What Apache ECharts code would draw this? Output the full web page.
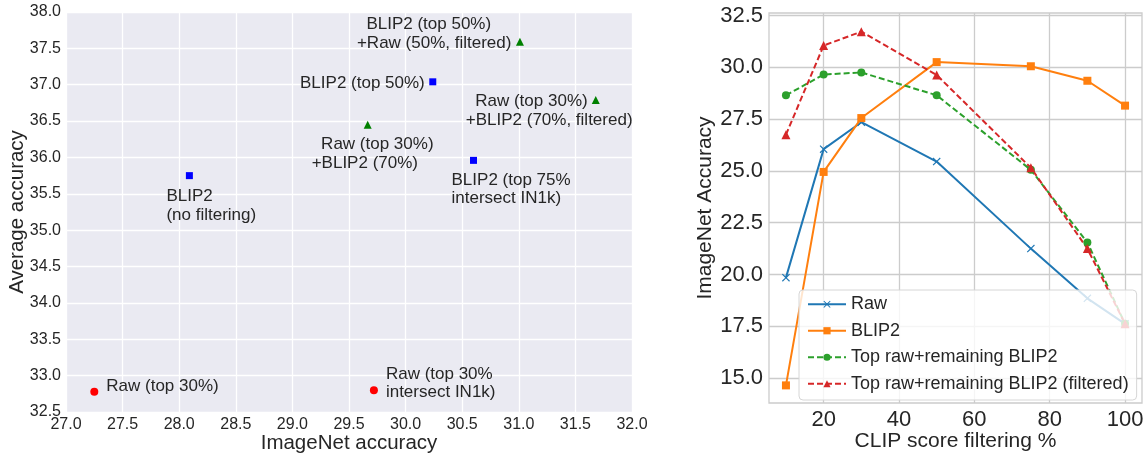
<!DOCTYPE html>
<html>
<head>
<meta charset="utf-8">
<script src="https://cdn.jsdelivr.net/npm/echarts@6/dist/echarts.min.js"></script>
<style>
  html, body { margin: 0; padding: 0; background: #fff; }
  #chart { width: 1146px; height: 454px; }
</style>
</head>
<body>
<div id="chart"></div>
<script>
  // left panel: ImageNet vs average accuracy
  const rawNames = ["Raw (top 30%)", "Raw (top 30%\nintersect IN1k)"];
  const rawX = [27.25, 29.72];
  const rawY = [32.78, 32.8];

  const blipNames = ["BLIP2\n(no filtering)", "BLIP2 (top 50%)", "BLIP2 (top 75%\nintersect IN1k)"];
  const blipX = [28.09, 30.24, 30.6];
  const blipY = [35.75, 37.04, 35.96];

  const mixNames = [
    "  BLIP2 (top 50%)\n+Raw (50%, filtered)",
    "  Raw (top 30%)\n+BLIP2 (70%, filtered)",
    "  Raw (top 30%)\n+BLIP2 (70%)",
  ];
  const mixX = [31.01, 31.68, 29.665];
  const mixY = [37.59, 36.79, 36.45];

  // right panel: CLIP score filtering sweep
  const clipPct = [10, 20, 30, 50, 75, 90, 100];
  const rawAcc = [19.85, 26.05, 27.35, 25.45, 21.25, 18.85, 17.62];
  const blip2Acc = [14.65, 24.95, 27.55, 30.25, 30.05, 29.35, 28.15];
  const topRawAcc = [28.65, 29.65, 29.75, 28.65, 25.05, 21.55, 17.62];
  const topRawFiltAcc = [26.75, 31.05, 31.72, 29.63, 25.15, 21.25, 17.62];
  const rightXTicks = [20, 40, 60, 80, 100];
  const rightYTicks = [15, 17.5, 20, 22.5, 25, 27.5, 30, 32.5];

  // label placement (offset of text from the marker)
  const rawLabelPos = [[12, -5, "left"], [12, -7, "left"]];
  const blipLabelPos = [[-23, 30, "left"], [-8, 1, "right"], [-22, 29, "left"]];
  const mixLabelPos = [[-163, -8, "left"], [-130, 11, "left"], [-56, 29, "left"]];

  const FONT = "'Liberation Sans', Arial, sans-serif";
  const TXT = "#262626";

  function points(xs, ys, names, pos) {
    return xs.map((x, i) => ({
      value: [x, ys[i]],
      name: names[i],
      label: {
        show: true,
        formatter: names[i],
        position: ["50%", "50%"],
        offset: [pos[i][0], pos[i][1]],
        align: pos[i][2],
        verticalAlign: "middle",
        color: TXT,
        fontSize: 17,
        lineHeight: 18.5,
        fontFamily: FONT,
      },
    }));
  }

  const xMark = "path://M0,1L1,0L5,4L9,0L10,1L6,5L10,9L9,10L5,6L1,10L0,9L4,5Z";

  function lineSeries(name, data, color, symbol, dashed) {
    return {
      name: name,
      type: "line",
      xAxisIndex: 1,
      yAxisIndex: 1,
      data: clipPct.map((x, i) => [x, data[i]]),
      symbol: symbol,
      symbolSize: symbol === "triangle" ? 9 : 8,
      showSymbol: true,
      lineStyle: { color: color, width: 2, type: dashed ? [6, 3] : "solid" },
      itemStyle: { color: color },
      emphasis: { disabled: true },
      animation: false,
    };
  }

  const chart = echarts.init(document.getElementById("chart"));
  chart.setOption({
    animation: false,
    textStyle: { fontFamily: FONT, color: TXT },
    grid: [
      {
        left: 66, right: 514, top: 12, bottom: 42,
        outerBoundsMode: "none",
        show: true, backgroundColor: "#eaeaf2", borderWidth: 0,
      },
      {
        left: 769, right: 4, top: 13, bottom: 51,
        outerBoundsMode: "none",
        show: true, backgroundColor: "#fff", borderColor: "#cccccc", borderWidth: 1.3,
      },
    ],
    legend: {
      data: ["Raw", "BLIP2", "Top raw+remaining BLIP2", "Top raw+remaining BLIP2 (filtered)"],
      orient: "vertical",
      left: 799,
      top: 290,
      itemWidth: 38,
      itemHeight: 9,
      itemGap: 6,
      padding: [4, 8, 6, 8],
      backgroundColor: "rgba(255,255,255,0.8)",
      borderColor: "#d6d6d6",
      borderWidth: 1,
      borderRadius: 4,
      textStyle: { fontSize: 18, color: TXT, fontFamily: FONT, lineHeight: 20.5 },
      selectedMode: false,
    },
    xAxis: [
      {
        gridIndex: 0,
        type: "value",
        min: 27,
        max: 32,
        interval: 0.5,
        name: "ImageNet accuracy",
        nameLocation: "middle",
        nameGap: 21,
        nameMoveOverlap: false,
        nameTextStyle: { fontSize: 20.5, color: TXT, fontFamily: FONT, verticalAlign: "top" },
        axisLine: { show: false },
        axisTick: { show: false },
        axisLabel: { fontSize: 16, color: TXT, margin: 5, formatter: (v) => v.toFixed(1) },
        splitLine: { lineStyle: { color: "#fff", width: 1.3 } },
      },
      {
        gridIndex: 1,
        type: "value",
        min: 5.5,
        max: 104.5,
        name: "CLIP score filtering %",
        nameLocation: "middle",
        nameGap: 28,
        nameMoveOverlap: false,
        nameTextStyle: { fontSize: 21, color: TXT, fontFamily: FONT, verticalAlign: "top" },
        axisLine: { show: false },
        axisTick: { show: false, customValues: rightXTicks },
        axisLabel: { fontSize: 22, color: TXT, margin: 6, customValues: rightXTicks },
        splitLine: { lineStyle: { color: "#cccccc", width: 1.3 } },
      },
    ],
    yAxis: [
      {
        gridIndex: 0,
        type: "value",
        min: 32.5,
        max: 38,
        interval: 0.5,
        name: "Average accuracy",
        nameLocation: "middle",
        nameGap: 38,
        nameMoveOverlap: false,
        nameTextStyle: { fontSize: 20.5, color: TXT, fontFamily: FONT },
        axisLine: { show: false },
        axisTick: { show: false },
        axisLabel: { fontSize: 16, color: TXT, margin: 5, formatter: (v) => v.toFixed(1) },
        splitLine: { lineStyle: { color: "#fff", width: 1.3 } },
      },
      {
        gridIndex: 1,
        type: "value",
        min: 13.8,
        max: 32.62,
        name: "ImageNet Accuracy",
        nameLocation: "middle",
        nameGap: 53,
        nameMoveOverlap: false,
        nameTextStyle: { fontSize: 21, color: TXT, fontFamily: FONT },
        axisLine: { show: false },
        axisTick: { show: false, customValues: rightYTicks },
        axisLabel: { fontSize: 22, color: TXT, margin: 6, customValues: rightYTicks, formatter: (v) => v.toFixed(1) },
        splitLine: { lineStyle: { color: "#cccccc", width: 1.3 } },
      },
    ],
    series: [
      {
        type: "scatter",
        xAxisIndex: 0,
        yAxisIndex: 0,
        symbol: "circle",
        symbolSize: 8,
        itemStyle: { color: "#ff0000", opacity: 1 },
        data: points(rawX, rawY, rawNames, rawLabelPos),
      },
      {
        type: "scatter",
        xAxisIndex: 0,
        yAxisIndex: 0,
        symbol: "rect",
        symbolSize: 7,
        itemStyle: { color: "#0000ff", opacity: 1 },
        data: points(blipX, blipY, blipNames, blipLabelPos),
      },
      {
        type: "scatter",
        xAxisIndex: 0,
        yAxisIndex: 0,
        symbol: "triangle",
        symbolSize: 8,
        itemStyle: { color: "#008000", opacity: 1 },
        data: points(mixX, mixY, mixNames, mixLabelPos),
      },
      lineSeries("Raw", rawAcc, "#1f77b4", xMark, false),
      lineSeries("BLIP2", blip2Acc, "#ff7f0e", "rect", false),
      lineSeries("Top raw+remaining BLIP2", topRawAcc, "#2ca02c", "circle", true),
      lineSeries("Top raw+remaining BLIP2 (filtered)", topRawFiltAcc, "#d62728", "triangle", true),
    ],
  });
</script>
</body>
</html>
